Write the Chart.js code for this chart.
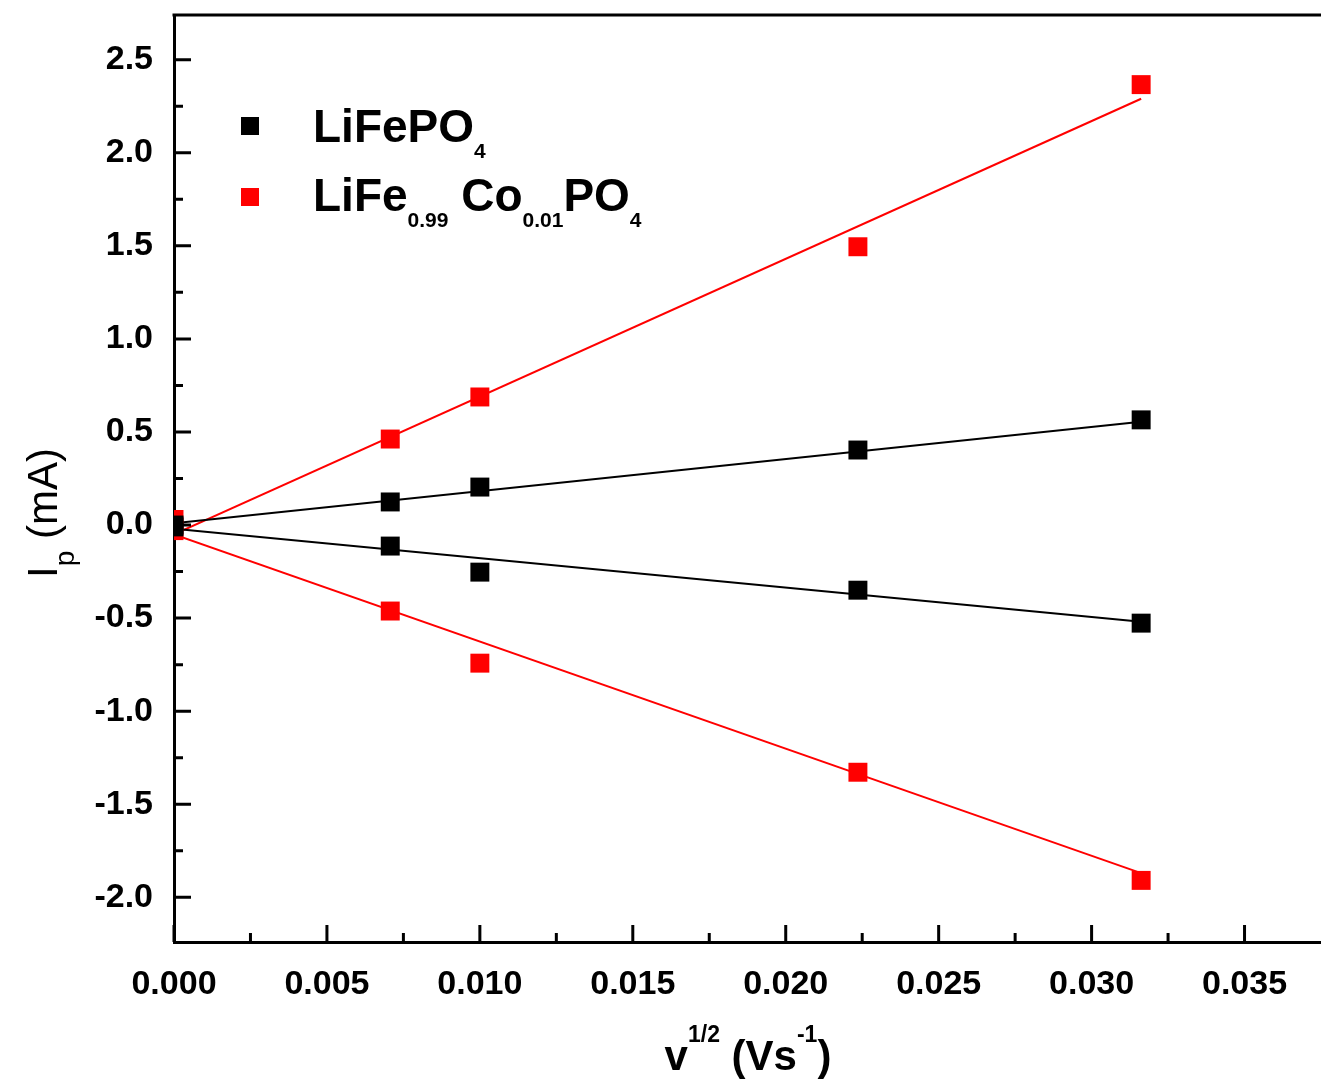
<!DOCTYPE html>
<html>
<head>
<meta charset="utf-8">
<script src="https://cdn.jsdelivr.net/npm/chart.js@4.4.1/dist/chart.umd.min.js"></script>
<style>
  html, body { margin: 0; padding: 0; background: #fff; overflow: hidden; }
  canvas { display: block; }
</style>
</head>
<body>
<canvas id="chart" width="1321" height="1082"></canvas>
<script>
// square root of scan rate, v^1/2 (V s^-1)
const sqrtScanRate = [0, 0.00707, 0.01, 0.02236, 0.03162];
// peak currents (mA)
const lfpAnodic   = [0.0, 0.124, 0.204, 0.403, 0.565];
const lfpCathodic = [-0.01, -0.113, -0.253, -0.35, -0.527];
const coAnodic    = [0.03, 0.462, 0.688, 1.495, 2.366];
const coCathodic  = [-0.03, -0.462, -0.742, -1.328, -1.909];
// linear fits, read at both ends
const fitX = [0, 0.03162];
const lfpAnodicFit   = [0.01, 0.555];
const lfpCathodicFit = [-0.02, -0.52];
const coAnodicFit    = [-0.05, 2.29];
const coCathodicFit  = [-0.05, -1.87];

const xTicks = [0, 0.005, 0.01, 0.015, 0.02, 0.025, 0.03, 0.035];
const yTicks = [-2.0, -1.5, -1.0, -0.5, 0.0, 0.5, 1.0, 1.5, 2.0, 2.5];

const BLACK = '#000000';
const RED = '#ff0000';
const FONT = '"Liberation Sans", Arial, sans-serif';

function pts(xs, ys) {
  return xs.map((x, i) => ({x: x, y: ys[i]}));
}

function markers(ys, color) {
  return {
    data: pts(sqrtScanRate, ys),
    showLine: false,
    pointStyle: 'rect',
    pointRadius: 13.4,
    pointHoverRadius: 13.4,
    backgroundColor: color,
    borderColor: color,
    borderWidth: 0
  };
}

function fitLine(ys, color) {
  return {
    data: pts(fitX, ys),
    showLine: true,
    pointRadius: 0,
    borderColor: color,
    borderWidth: 2,
    backgroundColor: color
  };
}

// draws pieces of text with sub/superscripts, returns the width
function richText(ctx, x, y, parts, draw) {
  let cx = x;
  parts.forEach(p => {
    ctx.font = p.font;
    if (draw) ctx.fillText(p.t, cx, y + (p.dy || 0));
    cx += ctx.measureText(p.t).width;
  });
  return cx - x;
}

// keep the plot area where the fixed axis sizes put it
function noOverflow(s) {
  s.paddingTop = 0; s.paddingBottom = 0;
  s.paddingLeft = 0; s.paddingRight = 0;
}

const decorations = {
  id: 'decorations',
  afterDraw(chart) {
    const ctx = chart.ctx;
    const a = chart.chartArea;
    const xs = chart.scales.x, ys = chart.scales.y;
    ctx.save();
    ctx.strokeStyle = BLACK;
    ctx.lineWidth = 3;

    // top frame
    ctx.beginPath();
    ctx.moveTo(a.left - 1.5, a.top);
    ctx.lineTo(a.right, a.top);
    ctx.stroke();

    // inward ticks, major and minor
    ctx.beginPath();
    xTicks.forEach(v => {
      const px = xs.getPixelForValue(v);
      ctx.moveTo(px, a.bottom); ctx.lineTo(px, a.bottom - 17);
      const m = xs.getPixelForValue(v + 0.0025);
      if (m < a.right) { ctx.moveTo(m, a.bottom); ctx.lineTo(m, a.bottom - 9); }
    });
    yTicks.forEach(v => {
      const py = ys.getPixelForValue(v);
      ctx.moveTo(a.left, py); ctx.lineTo(a.left + 17, py);
      [v - 0.25, v + 0.25].forEach(mv => {
        const m = ys.getPixelForValue(mv);
        if (m > a.top && m < a.bottom) { ctx.moveTo(a.left, m); ctx.lineTo(a.left + 9, m); }
      });
    });
    ctx.stroke();

    ctx.textBaseline = 'alphabetic';
    ctx.textAlign = 'left';

    // legend
    const big = 'bold 46px ' + FONT, small = 'bold 21px ' + FONT;
    ctx.fillStyle = BLACK;
    ctx.fillRect(241, 117, 18, 18);
    ctx.fillStyle = RED;
    ctx.fillRect(241, 188, 18, 18);
    ctx.fillStyle = BLACK;
    richText(ctx, 313, 142, [
      {t: 'LiFePO', font: big}, {t: '4', font: small, dy: 16}
    ], true);
    richText(ctx, 313, 211, [
      {t: 'LiFe', font: big}, {t: '0.99', font: small, dy: 16},
      {t: ' Co', font: big}, {t: '0.01', font: small, dy: 16},
      {t: 'PO', font: big}, {t: '4', font: small, dy: 16}
    ], true);

    // x axis title
    const xt = 'bold 42px ' + FONT, xs2 = 'bold 23px ' + FONT;
    const xParts = [
      {t: 'v', font: xt}, {t: '1/2', font: xs2, dy: -28},
      {t: ' (Vs', font: xt}, {t: '-1', font: xs2, dy: -28},
      {t: ')', font: xt}
    ];
    const w = richText(ctx, 0, 0, xParts, false);
    richText(ctx, 748 - w / 2, 1070, xParts, true);

    // y axis title
    ctx.translate(57, 578);
    ctx.rotate(-Math.PI / 2);
    richText(ctx, 0, 0, [
      {t: 'I', font: '42px ' + FONT}, {t: 'p', font: '28px ' + FONT, dy: 17},
      {t: ' (mA)', font: '42px ' + FONT}
    ], true);
    ctx.restore();
  }
};

const tickFont = {family: FONT, size: 34, weight: 'bold'};

new Chart(document.getElementById('chart'), {
  type: 'scatter',
  data: {
    datasets: [
      markers(lfpAnodic, BLACK),
      markers(lfpCathodic, BLACK),
      markers(coAnodic, RED),
      markers(coCathodic, RED),
      fitLine(lfpAnodicFit, BLACK),
      fitLine(lfpCathodicFit, BLACK),
      fitLine(coAnodicFit, RED),
      fitLine(coCathodicFit, RED)
    ]
  },
  options: {
    responsive: false,
    animation: false,
    layout: {autoPadding: false, padding: {top: 15, left: 0, right: 0, bottom: 0}},
    plugins: {legend: {display: false}, tooltip: {enabled: false}},
    scales: {
      x: {
        type: 'linear',
        min: 0,
        max: 0.0375,
        grid: {display: false, drawTicks: false},
        border: {display: true, color: BLACK, width: 3},
        afterBuildTicks: s => { s.ticks = xTicks.map(v => ({value: v})); },
        afterFit: s => { s.height = 140; noOverflow(s); },
        ticks: {
          color: BLACK,
          font: tickFont,
          padding: 22,
          maxRotation: 0,
          callback: v => v.toFixed(3)
        }
      },
      y: {
        type: 'linear',
        min: -2.24,
        max: 2.74,
        grid: {display: false, drawTicks: false},
        border: {display: true, color: BLACK, width: 3},
        afterBuildTicks: s => { s.ticks = yTicks.map(v => ({value: v})); },
        afterFit: s => { s.width = 174; noOverflow(s); },
        ticks: {
          color: BLACK,
          font: tickFont,
          padding: 21,
          callback: v => v.toFixed(1)
        }
      }
    }
  },
  plugins: [decorations]
});
</script>
</body>
</html>
